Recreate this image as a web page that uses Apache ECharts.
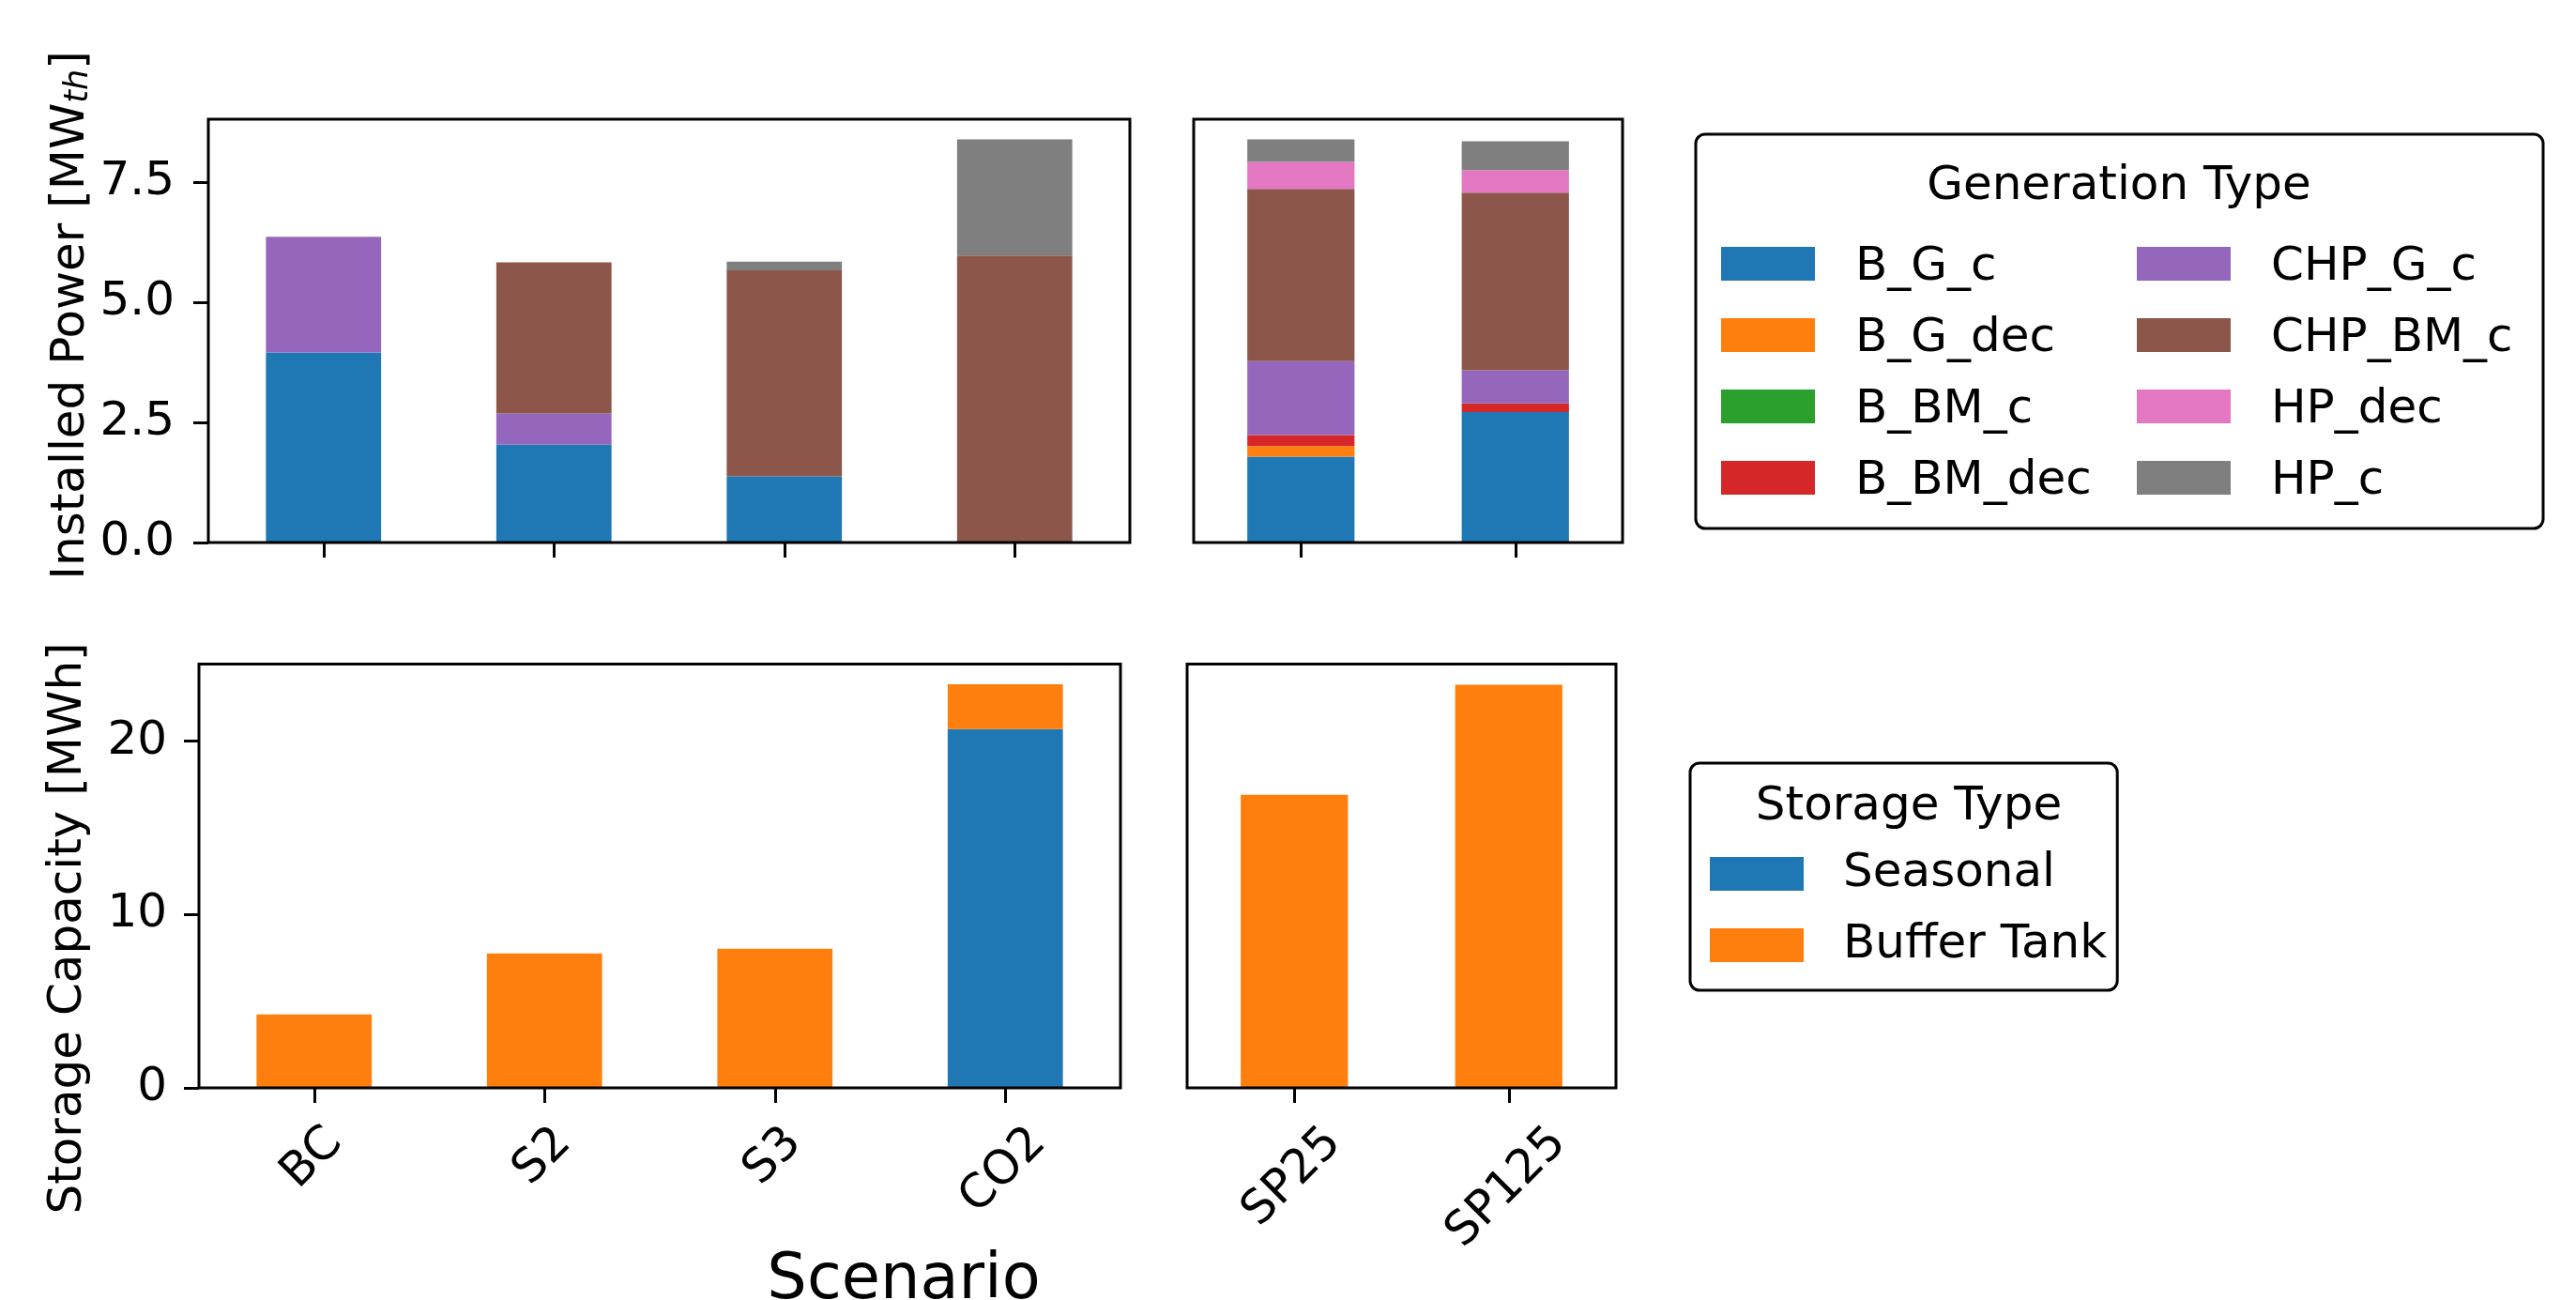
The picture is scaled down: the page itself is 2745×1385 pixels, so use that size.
<!DOCTYPE html>
<html><head><meta charset="utf-8">
<script src="https://cdn.jsdelivr.net/npm/echarts@6/dist/echarts.min.js"></script>
<style>html,body{margin:0;padding:0;background:#fff}#c{width:2745px;height:1385px}</style>
</head><body><div id="c"></div>
<script>
// ---------- data ----------
const categories = ['BC', 'S2', 'S3', 'CO2', 'SP25', 'SP125'];
const genTypes = ['B_G_c', 'B_G_dec', 'B_BM_c', 'B_BM_dec', 'CHP_G_c', 'CHP_BM_c', 'HP_dec', 'HP_c'];
const B_G_c    = [3.96, 2.04, 1.38, 0.00, 1.79, 2.72];
const B_G_dec  = [0.00, 0.00, 0.00, 0.00, 0.22, 0.00];
const B_BM_c   = [0.00, 0.00, 0.00, 0.00, 0.00, 0.00];
const B_BM_dec = [0.00, 0.00, 0.00, 0.00, 0.23, 0.18];
const CHP_G_c  = [2.41, 0.65, 0.00, 0.00, 1.54, 0.69];
const CHP_BM_c = [0.00, 3.15, 4.29, 5.98, 3.59, 3.70];
const HP_dec   = [0.00, 0.00, 0.00, 0.00, 0.56, 0.47];
const HP_c     = [0.00, 0.00, 0.18, 2.42, 0.47, 0.60];
const storageTypes = ['Seasonal', 'Buffer Tank'];
const Seasonal   = [0.00, 0.00, 0.00, 20.69, 0.00, 0.00];
const BufferTank = [4.24, 7.76, 8.03, 2.59, 16.90, 23.25];
const powerTicks = [0, 2.5, 5.0, 7.5];
const storageTicks = [0, 10, 20];

// ---------- styling ----------
const FONT = "'DejaVu Sans'";
const genColors = ['#1f77b4', '#ff7f0e', '#2ca02c', '#d62728', '#9467bd', '#8c564b', '#e377c2', '#7f7f7f'];
const storColors = ['#1f77b4', '#ff7f0e'];
const genData = [B_G_c, B_G_dec, B_BM_c, B_BM_dec, CHP_G_c, CHP_BM_c, HP_dec, HP_c];
const storData = [Seasonal, BufferTank];
const nLeft = 4;

function stackMax(arrs) {
  let m = 0;
  for (let i = 0; i < categories.length; i++) {
    let s = 0; arrs.forEach(a => s += a[i]); m = Math.max(m, s);
  }
  return m * 1.05;
}
const pMax = stackMax(genData);
const sMax = stackMax(storData);

const grids = [
  {left: 222, top: 127, width: 982, height: 451},
  {left: 1272, top: 127, width: 457, height: 451},
  {left: 212, top: 707.5, width: 982, height: 451.5},
  {left: 1265, top: 707.5, width: 457, height: 451.5}
].map(g => Object.assign(g, {show: true, borderColor: '#000', borderWidth: 3,
  backgroundColor: 'rgba(0,0,0,0)', containLabel: false, outerBoundsMode: 'none', z: 10}));

function catsFor(k) { return (k % 2 === 0) ? categories.slice(0, nLeft) : categories.slice(nLeft); }
function sliceFor(k, arr) { return (k % 2 === 0) ? arr.slice(0, nLeft) : arr.slice(nLeft); }

const xAxes = [0, 1, 2, 3].map(k => ({
  type: 'category', gridIndex: k, data: catsFor(k),
  axisLine: {show: false},
  axisTick: {show: true, alignWithLabel: true, length: 16, lineStyle: {color: '#000', width: 3}},
  axisLabel: {show: false},
  splitLine: {show: false}
}));

const yAxes = [0, 1, 2, 3].map(k => {
  const isPower = k < 2;
  const ticks = isPower ? powerTicks : storageTicks;
  const showLab = (k % 2 === 0);
  return {
    type: 'value', gridIndex: k, min: 0, max: isPower ? pMax : sMax,
    axisLine: {show: false},
    splitLine: {show: false},
    axisTick: {show: showLab, customValues: ticks, length: 16, lineStyle: {color: '#000', width: 3}},
    axisLabel: {show: showLab, customValues: ticks, fontSize: 50, fontFamily: FONT, color: '#000',
      margin: isPower ? 36 : 34, padding: [8, 0, 0, 0],
      formatter: v => isPower ? v.toFixed(1) : String(Math.round(v))}
  };
});

const series = [];
genTypes.forEach((name, i) => {
  [0, 1].forEach(k => {
    series.push({type: 'bar', name, stack: 'gen' + k, xAxisIndex: k, yAxisIndex: k,
      barWidth: '50%', data: sliceFor(k, genData[i]), itemStyle: {color: genColors[i]},
      emphasis: {disabled: true}});
  });
});
storageTypes.forEach((name, i) => {
  [2, 3].forEach(k => {
    series.push({type: 'bar', name, stack: 'stor' + k, xAxisIndex: k, yAxisIndex: k,
      barWidth: '50%', data: sliceFor(k, storData[i]), itemStyle: {color: storColors[i]},
      emphasis: {disabled: true}});
  });
});

const legendCommon = {
  orient: 'vertical', icon: 'rect', itemWidth: 100, itemHeight: 36, selectedMode: false,
  backgroundColor: '#fff', borderColor: '#000', borderWidth: 3, borderRadius: 10
};
const legends = [
  Object.assign({}, legendCommon, {data: genTypes, left: 1807, top: 143, height: 320,
    padding: [117, 16, 25, 27], itemGap: 26,
    formatter: name => '{t|' + name + '}',
    textStyle: {fontSize: 50, fontFamily: FONT, color: '#000', padding: [8, 0, 0, 38],
      rich: {t: {fontSize: 50, fontFamily: FONT, color: '#000', lineHeight: 50, width: 274}}}}),
  Object.assign({}, legendCommon, {data: storageTypes, left: 1801, top: 813, height: 200,
    padding: [89, 11, 19, 21], itemGap: 18,
    textStyle: {fontSize: 50, fontFamily: FONT, color: '#000', lineHeight: 50, padding: [8, 0, 0, 37]}})
];

const chart = echarts.init(document.getElementById('c'), null, {renderer: 'canvas'});
chart.setOption({
  animation: false,
  backgroundColor: '#fff',
  grid: grids, xAxis: xAxes, yAxis: yAxes, legend: legends, series
});

// ---------- text elements ----------
const graphics = [
  {type: 'text', x: 76, y: 336, rotation: Math.PI / 2, z: 100,
    style: {text: '{n|Installed Power [MW}{s|th}{n|]}', align: 'center', verticalAlign: 'middle',
      rich: {n: {fontSize: 50, fontFamily: FONT, lineHeight: 50, fill: '#000'},
             s: {fontSize: 35, fontFamily: FONT, fontStyle: 'italic', lineHeight: 25, verticalAlign: 'bottom', fill: '#000'}}}},
  {type: 'text', x: 73, y: 989, rotation: Math.PI / 2, z: 100,
    style: {text: 'Storage Capacity [MWh]', font: '50px ' + FONT, fill: '#000', align: 'center', verticalAlign: 'middle'}},
  {type: 'text', x: 963, y: 1366, z: 100,
    style: {text: 'Scenario', font: '67px ' + FONT, fill: '#000', align: 'center', verticalAlign: 'middle'}},
  {type: 'text', x: 2258, y: 199, z: 100,
    style: {text: 'Generation Type', font: '50px ' + FONT, fill: '#000', align: 'center', verticalAlign: 'middle'}},
  {type: 'text', x: 2034, y: 860, z: 100,
    style: {text: 'Storage Type', font: '50px ' + FONT, fill: '#000', align: 'center', verticalAlign: 'middle'}}
];

const ctx = document.createElement('canvas').getContext('2d');
ctx.font = '50px ' + FONT;
[2, 3].forEach(k => {
  const axisY = chart.convertToPixel({yAxisIndex: k}, 0);
  catsFor(k).forEach(cat => {
    const tx = chart.convertToPixel({xAxisIndex: k}, cat);
    const w = ctx.measureText(cat).width;
    graphics.push({type: 'text', x: tx - 2, y: axisY + 51 + w / (2 * Math.SQRT2),
      rotation: Math.PI / 4, z: 100,
      style: {text: cat, font: '50px ' + FONT, fill: '#000', align: 'center', verticalAlign: 'middle'}});
  });
});
chart.setOption({graphic: graphics});
</script></body></html>
